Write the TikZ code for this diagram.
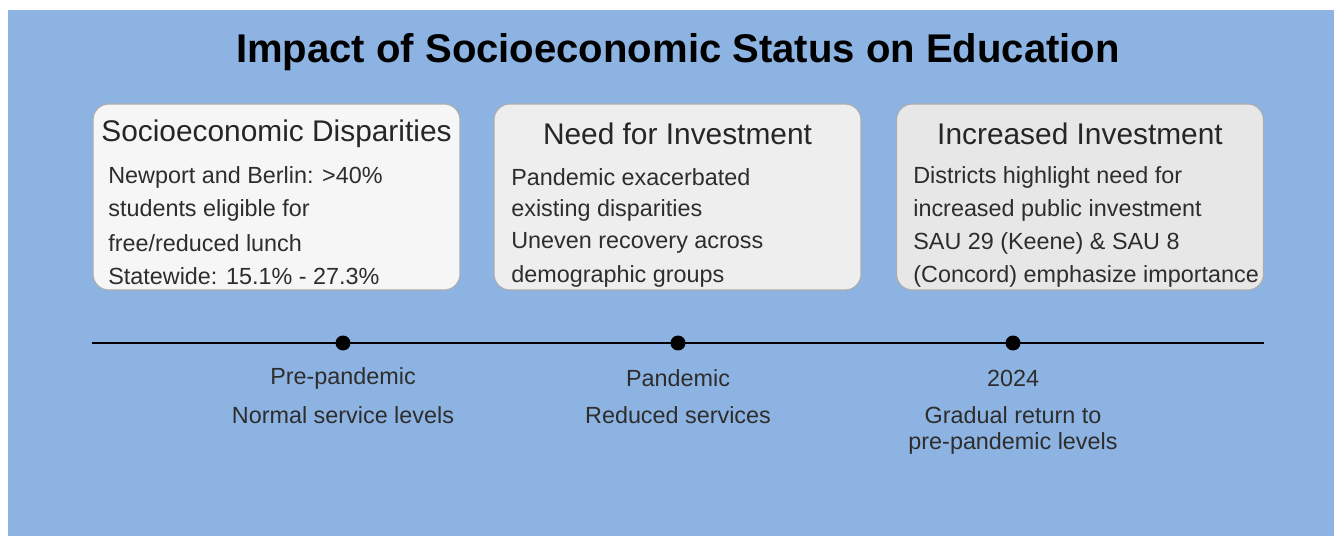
\documentclass[tikz,border=0pt]{standalone}
\usepackage{fontspec}
\setmainfont{Liberation Sans}
\usetikzlibrary{positioning}
\definecolor{bgblue}{RGB}{141,179,226}
\definecolor{txtgray}{RGB}{45,45,45}
\tikzset{
  card/.style={draw=gray!65, line width=0.6pt, rounded corners=9pt, minimum width=7.34cm, minimum height=3.72cm},
  cardhead/.style={font=\fontsize{17}{20}\selectfont, text=black!85, inner sep=0pt},
  cardline/.style={font=\fontsize{13.3}{16}\selectfont, text=txtgray, anchor=west, inner sep=0pt},
  milestone/.style={circle, fill=black, inner sep=0pt, minimum size=0.3cm},
  tllabel/.style={font=\fontsize{13.3}{16}\selectfont, text=txtgray, inner sep=0pt}
}
\begin{document}
\begin{tikzpicture}[x=0.02cm, y=-0.02cm]
	\useasboundingbox (0,0) rectangle (1334,536);
	\fill[bgblue] (8,10) rectangle (1334,536);
	
	\node[font=\fontsize{22.8}{26}\selectfont\bfseries, inner sep=0pt] (title) at (678,52) {Impact of Socioeconomic Status on Education};
	
	% the three cards
	\node[card, fill=gray!7] (disp) at (276.5,197) {};
	\node[card, fill=gray!13] (need) at (677.5,197) {};
	\node[card, fill=gray!19] (incr) at (1080,197) {};
	
	\node[cardhead] (disp-head) at (276.5,134) {Socioeconomic Disparities};
	\node[cardline] (disp-1) at (108,177) {Newport and Berlin: >40\%};
	\node[cardline] (disp-2) at (108,210) {students eligible for};
	\node[cardline] (disp-3) at (108,243) {free/reduced lunch};
	\node[cardline] (disp-4) at (108,276) {Statewide: 15.1\% - 27.3\%};
	
	\node[cardhead] (need-head) at (677.5,134) {Need for Investment};
	\node[cardline] (need-1) at (511,177) {Pandemic exacerbated};
	\node[cardline] (need-2) at (511,210) {existing disparities};
	\node[cardline] (need-3) at (511,243) {Uneven recovery across};
	\node[cardline] (need-4) at (511,276) {demographic groups};
	
	\node[cardhead] (incr-head) at (1080,134) {Increased Investment};
	\node[cardline] (incr-1) at (913,177) {Districts highlight need for};
	\node[cardline] (incr-2) at (913,210) {increased public investment};
	\node[cardline] (incr-3) at (913,243) {SAU 29 (Keene) \& SAU 8};
	\node[cardline] (incr-4) at (913,276) {(Concord) emphasize importance};
	
	% timeline
	\coordinate (tl-start) at (92,343);
	\coordinate (tl-end) at (1264,343);
	\draw[line width=1.7pt] (tl-start) -- (tl-end);
	\node[milestone] (pre) at (343,343) {};
	\node[milestone] (pan) at (678,343) {};
	\node[milestone] (now) at (1013,343) {};
	
	\node[tllabel] (pre-when) at (343,378) {Pre-pandemic};
	\node[tllabel] (pre-what) at (343,415) {Normal service levels};
	\node[tllabel] (pan-when) at (678,378) {Pandemic};
	\node[tllabel] (pan-what) at (678,415) {Reduced services};
	\node[tllabel] (now-when) at (1013,378) {2024};
	\node[tllabel] (now-what) at (1013,415) {Gradual return to};
	\node[tllabel] (now-what2) at (1013,443) {pre-pandemic levels};
\end{tikzpicture}
\end{document}
